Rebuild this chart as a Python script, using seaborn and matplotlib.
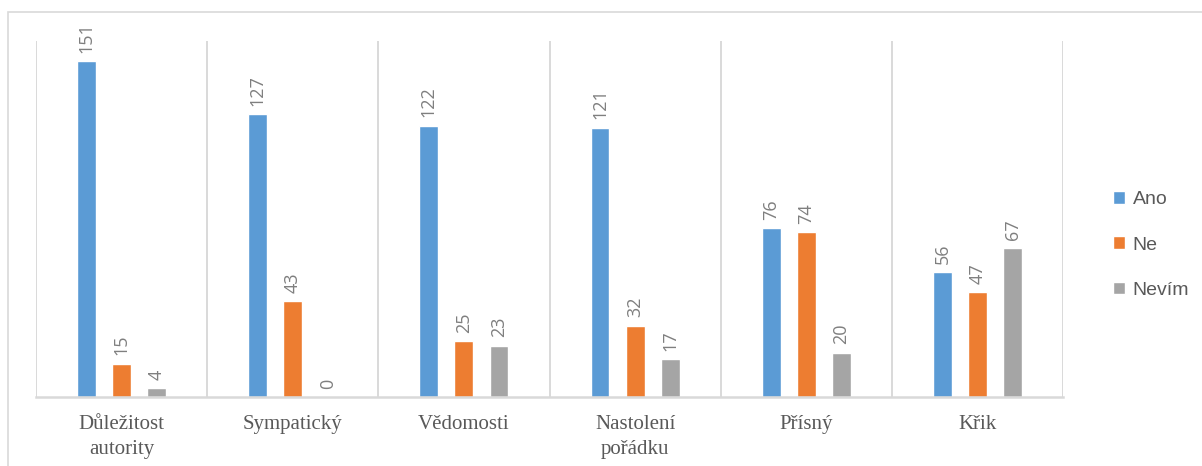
import matplotlib
matplotlib.use("Agg")
import matplotlib.pyplot as plt
import seaborn as sns
import pandas as pd
import numpy as np
from matplotlib.patches import Rectangle

categories = ["Důležitost\nautority", "Sympatický", "Vědomosti", "Nastolení\npořádku", "Přísný", "Křik"]
series_names = ["Ano", "Ne", "Nevím"]
ano = [151, 127, 122, 121, 76, 56]
ne = [15, 43, 25, 32, 74, 47]
nevim = [4, 0, 23, 17, 20, 67]
colors = ["#5B9BD5", "#ED7D31", "#A5A5A5"]

rows = []
for name, vals in zip(series_names, [ano, ne, nevim]):
    for c, v in zip(categories, vals):
        rows.append({"cat": c, "series": name, "val": v})
df = pd.DataFrame(rows)

sns.set_theme(style="white")
plt.rcParams["font.family"] = ["Liberation Sans", "DejaVu Sans"]

fig = plt.figure(figsize=(12.02, 4.66), dpi=100)
ax = fig.add_axes([36 / 1202, 69 / 466, (1063 - 36) / 1202, (397 - 41) / 466])

sns.barplot(data=df, x="cat", y="val", hue="series", palette=colors,
            order=categories, hue_order=series_names,
            width=0.615, gap=0.46, ax=ax, legend=True, saturation=1, err_kws={"linewidth": 0})

for cont in ax.containers:
    ax.bar_label(cont, padding=6, rotation=90, fontsize=13, color="#7F7F7F",
                 fontfamily="Open Sans")

ax.set_ylim(0, 160)
ax.set_xlim(-0.5, 5.5)
ax.set_yticks([])
ax.set_xlabel("")
ax.set_ylabel("")

ax.set_xticks(np.arange(-0.5, 6, 1), minor=True)
ax.grid(True, which="minor", axis="x", color="#D9D9D9", linewidth=1.4)
ax.grid(False, which="major")
ax.tick_params(axis="x", which="both", length=0)
ax.tick_params(axis="x", which="major", pad=13)
for lbl in ax.get_xticklabels():
    lbl.set_fontfamily("Liberation Serif")
    lbl.set_fontsize(15)
    lbl.set_color("#595959")
    lbl.set_linespacing(1.45)

for s in ["top", "left", "right"]:
    ax.spines[s].set_visible(False)
ax.spines["bottom"].set_color("#D9D9D9")
ax.spines["bottom"].set_linewidth(1.8)

handles, labels = ax.get_legend_handles_labels()
ax.legend(handles, labels, loc="center left",
          bbox_to_anchor=(1103 / 1202, 1 - 245 / 466), bbox_transform=fig.transFigure,
          frameon=False, handlelength=0.62, handleheight=0.62, handletextpad=0.4,
          labelspacing=1.45, fontsize=14, labelcolor="#595959", borderpad=0)

fig.patches.append(Rectangle((7.5 / 1202, -0.1), 1.2, 1.1 - 12.5 / 466,
                             transform=fig.transFigure, fill=False,
                             edgecolor="#D9D9D9", linewidth=1.2))

fig.savefig("out.png", dpi=100, facecolor="white")
